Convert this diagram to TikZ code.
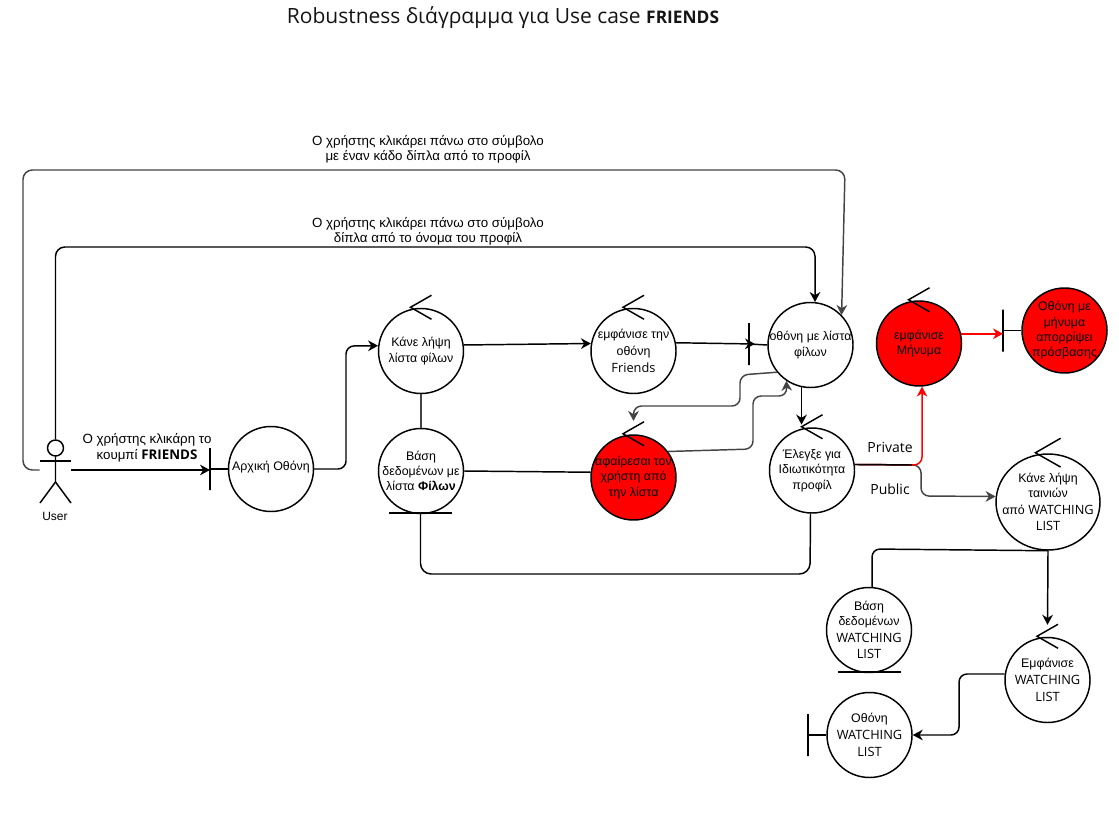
\documentclass[tikz,border=0pt]{standalone}
\usepackage{fontspec}
\setmainfont{Open Sans}
\newfontfamily\bodyfont{Liberation Sans}
\newcommand{\wlatin}[1]{{\rmfamily\fontsize{9.6}{12}\selectfont #1}}
\usepackage{tikz}
\usetikzlibrary{arrows,arrows.meta,shapes.geometric}
\usepackage{xcolor}
\definecolor{rbred}{RGB}{255,0,0}
\definecolor{rbgrey}{RGB}{68,68,68}
\definecolor{rbink}{RGB}{20,20,20}
\tikzstyle{robust} = [circle, draw=black, minimum size=63.75pt, inner sep=-8pt, line width=1.1pt, align=center, font=\bodyfont\fontsize{9.3}{11.5}\selectfont]
\tikzstyle{alert} = [robust, fill=rbred]
\tikzstyle{boundbar} = [draw=black, line width=0.9pt, minimum width=0pt, minimum height=31.5pt, inner sep=0pt, outer sep=0pt]
\tikzstyle{dbbar} = [draw=black, line width=0.9pt, minimum width=47pt, minimum height=0pt, inner sep=0pt, outer sep=0pt]
\tikzstyle{note} = [align=center, font=\bodyfont\fontsize{10}{11.7}\selectfont, inner sep=0pt]
\tikzstyle{tag} = [inner sep=0pt, font=\fontsize{10.5}{12}\selectfont]
\tikzstyle{arrow} = [line width=1.1pt,->,>={Stealth[length=7.5pt,width=8pt]},color=black]
\tikzstyle{greyarrow} = [arrow,color=rbgrey]
\tikzstyle{redarrow} = [arrow,color=rbred]
\tikzstyle{plain} = [line width=1.1pt,color=black]
\tikzstyle{greyline} = [plain,color=rbgrey]
\begin{document}
\begin{tikzpicture}[x=0.75pt,y=-0.75pt]
\useasboundingbox (0,0) rectangle (1119,834);

% Title and free texts
\node[inner sep=0pt, text=rbink, font=\fontsize{15.75}{18}\selectfont] (title) at (503,18) {Robustness διάγραμμα για Use case {\fontsize{13}{15}\selectfont\textbf{FRIENDS}}};
\node[note] (clickbin) at (428,149.5) {Ο χρήστης κλικάρει πάνω στο σύμβολο\\με έναν κάδο δίπλα από το προφίλ};
\node[note] (clickname) at (428,231.5) {Ο χρήστης κλικάρει πάνω στο σύμβολο\\δίπλα από το όνομα του προφίλ};
\node[note] (clickfriends) at (147,448) {Ο χρήστης κλικάρη το\\κουμπί {\rmfamily\textbf{FRIENDS}}};
\node[tag] (private) at (890,447) {Private};
\node[tag] (public) at (890,489) {Public};

% Actor
\node[circle, draw=black, line width=1.1pt, minimum size=12pt, inner sep=0pt] (userhead) at (55.5,448) {};
\node[minimum width=23.25pt, minimum height=47pt, inner sep=0pt] (user) at (55.5,470) {};
\node[inner sep=0pt, font=\bodyfont\fontsize{9}{11}\selectfont] (username) at (55,516) {User};
\draw[plain] (userhead.south) -- (55.5,482) -- (40,503);
\draw[plain] (55.5,482) -- (71,503);
\draw[plain] (40,461) -- (71,461);

% Circles
\node[robust] (arx) at (271,469) {\raisebox{5pt}{Αρχική Οθόνη}};
\node[robust] (kane) at (421,351) {Κάνε λήψη\\λίστα φίλων};
\node[robust] (vasi) at (421,471) {Βάση\\δεδομένων με\\λίστα \textbf{Φίλων}};
\node[robust] (emf) at (633.5,351) {εμφάνισε την\\[1pt]οθόνη\\[1pt]\wlatin{Friends}};
\node[robust] (oth) at (810.5,345) {οθόνη με λίστα\\φίλων};
\node[alert] (afair) at (633.5,477.5) {αφαίρεσαι τον\\χρήστη από\\την λίστα};
\node[robust] (eleg) at (812,470.5) {Έλεγξε για\\Ιδιωτικότητα\\προφίλ};
\node[alert] (mnm) at (919,343.5) {εμφάνισε\\Μήνυμα};
\node[alert] (othmin) at (1064.5,330.5) {Οθόνη με\\μήνυμα\\απορρίψει\\πρόσβασης};
\node[robust, ellipse, minimum width=78pt, minimum height=72pt] (tain) at (1048,502) {Κάνε λήψη\\ταινιών\\[1pt]από \wlatin{WATCHING}\\[1pt]\wlatin{LIST}};
\node[robust] (dbwl) at (869,630) {Βάση\\δεδομένων\\[1pt]\wlatin{WATCHING}\\[1pt]\wlatin{LIST}};
\node[robust] (emfwl) at (1047.5,680) {Εμφάνισε\\[1pt]\wlatin{WATCHING}\\[1pt]\wlatin{LIST}};
\node[robust] (othwl) at (869.5,735) {Οθόνη\\[1pt]\wlatin{WATCHING}\\[1pt]\wlatin{LIST}};

% Bars
\node[boundbar] (arxbar) at (210,469) {};
\node[boundbar] (othbar) at (749,344) {};
\node[boundbar] (minbar) at (1003,330.5) {};
\node[boundbar] (wlbar) at (808,735) {};
\node[dbbar] (vasibar) at (420.5,513) {};
\node[dbbar] (dbwlbar) at (869.5,672) {};

% Control marks
\foreach \n/\s in {kane/1,emf/1,afair/1,eleg/1,mnm/1,emfwl/1,tain/1.2}
  \draw[plain] ([shift={(\s*10.5,-\s*12.5)}]\n.north) -- ([shift={(-\s*10.5,-0.5)}]\n.north) -- ([shift={(\s*10.5,\s*11.5)}]\n.north);

% Connectors
\draw[arrow] (user.east) -- (arxbar.center |- user.east);
\draw[plain] (arxbar) -- (arx.west);
\draw[arrow, rounded corners=6pt] (arx.east) -- (346,469) -- (346,346) -- (kane.173);
\draw[arrow] (kane.8) -- (emf.170);
\draw[arrow] (emf.11) -- ([xshift=4.5pt]othbar.center);
\draw[plain] (othbar) -- (oth.west);
\draw[greyline] (kane.south) -- (vasi.north);
\draw[plain] (vasi.east) -- (afair.173);
\draw[plain, rounded corners=8pt] (vasibar) -- (420.5,574) -- (810,574) -- (eleg.268);
\draw[arrow, rounded corners=7pt] (userhead.north) -- (55.5,247) -- (815,247) -- (oth.84);
\draw[greyarrow, rounded corners=7pt] (user.west) -- (23,470) -- (23,170) -- (845,170) -- (oth.44);
\draw[greyarrow, rounded corners=6pt] (oth.219) -- (740,375) -- (740,406) -- (633.5,406) -- ([yshift=10pt]afair.north);
\draw[greyarrow, rounded corners=6pt] (afair.37) -- (753,449) -- (753,396) -- (787,396) -- (oth.236);
\draw[arrow] (oth.258) -- ([yshift=2pt]oth.258 |- eleg.north);
\draw[greyarrow, rounded corners=6pt] (eleg.8) -- (921,465) -- (921,496) -- (tain.174);
\draw[redarrow, rounded corners=6pt] (eleg.8) -- (922,465) -- (mnm.-86);
\draw[plain] (eleg.8) -- (912,465);
\draw[redarrow] (mnm.13) -- (minbar.center |- mnm.13);
\draw[plain] (minbar) -- (othmin.west);
\draw[arrow] (tain.south) -- ([yshift=9pt]emfwl.north);
\draw[plain, rounded corners=6pt] (tain.south) -- (872,549) -- (dbwl.86);
\draw[arrow, rounded corners=6pt] (emfwl.172) -- (959,674) -- (959,735) -- (othwl.east);
\draw[plain] (wlbar) -- (othwl.west);
\end{tikzpicture}
\end{document}
